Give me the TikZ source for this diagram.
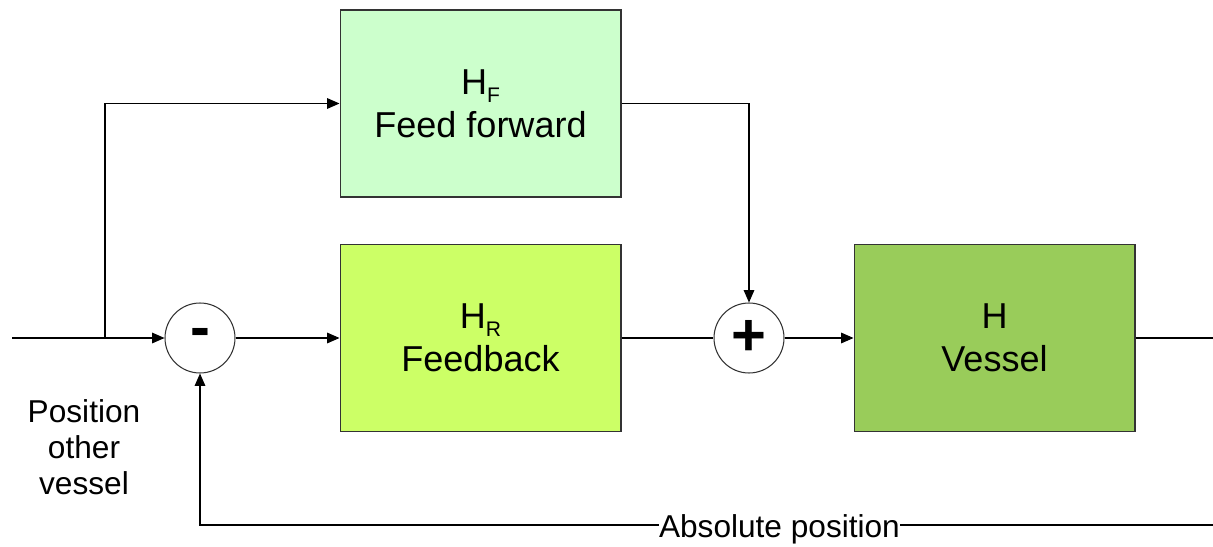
\documentclass[tikz,border=0pt]{standalone}
\usepackage{fontspec}
\setmainfont{Liberation Sans}
\usetikzlibrary{arrows.meta}

\definecolor{ffgreen}{HTML}{CCFFCC}
\definecolor{fbgreen}{HTML}{CCFF66}
\definecolor{vsgreen}{HTML}{99CC5A}

\newcommand{\lowsub}[1]{\raisebox{-4.5pt}{\fontsize{12}{12}\selectfont #1}}

\tikzset{
  block/.style={draw=black!80, line width=0.6pt, minimum width=5.62cm, minimum height=3.74cm,
    align=center, font=\fontsize{20.5}{24.5}\selectfont},
  sumnode/.style={circle, draw=black!80, line width=0.6pt, minimum size=1.4cm, inner sep=0pt,
    font=\fontsize{34}{34}\selectfont\bfseries},
  conn/.style={line width=0.6pt, -{Triangle[length=7pt,width=6pt]}},
  wire/.style={line width=0.6pt},
  lbl/.style={font=\fontsize{18}{20.5}\selectfont, align=center}
}

\begin{document}
\begin{tikzpicture}[x=0.02cm, y=-0.02cm]
			\useasboundingbox (0,0) rectangle (1213,547);

			% Blocks
			\node[block, fill=ffgreen] (ff) at (480.5,103.5) {H\lowsub{F}\\Feed forward};
			\node[block, fill=fbgreen] (fb) at (480.5,338) {H\lowsub{R}\\Feedback};
			\node[block, fill=vsgreen] (vessel) at (994.5,338) {H\\Vessel};

			% Summing points
			\node[sumnode] (minus) at (200,338) {-};
			\node[sumnode] (plus) at (749,338) {+};

			% Free ends
			\coordinate (in) at (12,338);
			\coordinate (split) at (105,338);
			\coordinate (out) at (1213,338);
			\coordinate (fbend) at (1213,525);

			% Forward path
			\draw[conn] (in) -- (minus);
			\draw[conn] (split) |- (ff);
			\draw[conn] (ff.east) -| (plus);
			\draw[conn] (minus) -- (fb);
			\draw[wire] (fb) -- (plus);
			\draw[conn] (plus) -- (vessel);
			\draw[wire] (vessel) -- (out);

			% Feedback path
			\draw[conn] (fbend) -- node[pos=0.428, fill=white, inner sep=0pt, lbl, yshift=-2.5pt] {Absolute position} (minus |- fbend) -- (minus);

			% Input label
			\node[lbl] (inlbl) at (84,447) {Position\\other\\vessel};
\end{tikzpicture}
\end{document}
